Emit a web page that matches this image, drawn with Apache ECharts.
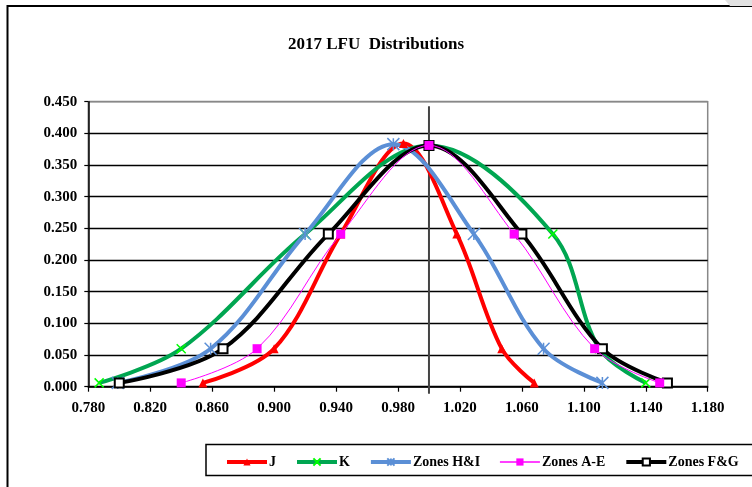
<!DOCTYPE html>
<html>
<head>
<meta charset="utf-8">
<script src="https://cdn.jsdelivr.net/npm/echarts@6/dist/echarts.min.js"></script>
<style>
  html, body { margin: 0; padding: 0; background: #fff; }
  #chart { width: 752px; height: 487px; }
</style>
</head>
<body>
<div id="chart"></div>
<script>
// values
const seriesNames = ["J", "K", "Zones H&I", "Zones A-E", "Zones F&G"];
const legendWidths = [4, 4, 4, 1.5, 4];

const jX = [0.854, 0.900, 0.943, 0.9835, 1.018, 1.047, 1.068];
const jY = [0.006, 0.060, 0.241, 0.384, 0.241, 0.060, 0.006];

const kX = [0.787, 0.840, 0.920, 1.000, 1.080, 1.110, 1.140];
const kY = [0.006, 0.060, 0.241, 0.381, 0.241, 0.060, 0.006];

const hiX = [0.799, 0.859, 0.920, 0.977, 1.029, 1.074, 1.112];
const hiY = [0.006, 0.060, 0.241, 0.383, 0.241, 0.060, 0.006];

const aeX = [0.840, 0.889, 0.943, 1.000, 1.055, 1.107, 1.149];
const aeY = [0.006, 0.060, 0.241, 0.381, 0.241, 0.060, 0.006];

const fgX = [0.800, 0.867, 0.935, 1.000, 1.060, 1.112, 1.154];
const fgY = [0.006, 0.060, 0.241, 0.381, 0.241, 0.060, 0.006];

// vertical reference line at 1.000
const refX = [1.0, 1.0];
const refY = [0.443, -0.011];

const xMin = 0.78, xMax = 1.18, xStep = 0.04;
const yMin = 0, yMax = 0.45, yStep = 0.05;

const pairs = (xs, ys) => xs.map((x, i) => [x, ys[i]]);
const font = "Liberation Serif";

const chart = echarts.init(document.getElementById("chart"));

// split lines black, the top one gray like the plot border
const splitColors = [];
for (let i = 0; i <= Math.round((yMax - yMin) / yStep); i++) splitColors.push("#000");
splitColors[splitColors.length - 1] = "#888";

chart.setOption({
  animation: false,
  backgroundColor: "#fff",
  title: {
    text: "2017 LFU  Distributions",
    left: "center",
    top: 31,
    textStyle: { fontFamily: font, fontWeight: "bold", fontSize: 17, color: "#000" },
  },
  graphic: [
    {
      type: "rect",
      shape: { x: 7.5, y: 6, width: 800, height: 600 },
      style: { fill: "none", stroke: "#000", lineWidth: 2 },
      silent: true,
    },
    {
      type: "rect",
      shape: { x: 206, y: 444.5, width: 600, height: 31 },
      style: { fill: "none", stroke: "#000", lineWidth: 1.5 },
      silent: true,
    },
    {
      type: "polygon",
      shape: { points: [[725, 0], [752, 0], [752, 6], [730, 6]] },
      style: { fill: "#e2e2e2" },
      silent: true,
    },
  ],
  legend: {
    data: seriesNames.map((n, i) => ({ name: n, lineStyle: { width: legendWidths[i] } })),
    left: 225,
    top: 455,
    padding: 0,
    itemWidth: 40,
    itemHeight: 9,
    itemGap: 19,
    textStyle: { fontFamily: font, fontWeight: "bold", fontSize: 14, color: "#000", padding: [0, 0, 0, -3] },
  },
  grid: {
    left: 88.3,
    right: 44.3,
    top: 101.7,
    bottom: 100.3,
    show: true,
    borderColor: "#888",
    borderWidth: 1.5,
  },
  xAxis: {
    type: "value",
    min: xMin,
    max: xMax,
    interval: xStep,
    axisLine: { lineStyle: { color: "#000", width: 1.5 } },
    axisTick: { show: true, length: 5, lineStyle: { color: "#000", width: 1.2 } },
    axisLabel: {
      margin: 14,
      fontFamily: font,
      fontWeight: "bold",
      fontSize: 15,
      color: "#000",
      formatter: (v) => v.toFixed(3),
    },
    splitLine: { show: false },
  },
  yAxis: {
    type: "value",
    min: yMin,
    max: yMax,
    interval: yStep,
    axisLine: { show: true, lineStyle: { color: "#000", width: 1.5 } },
    axisTick: { show: true, length: 4, lineStyle: { color: "#000", width: 1.2 } },
    axisLabel: {
      margin: 11,
      fontFamily: font,
      fontWeight: "bold",
      fontSize: 15,
      color: "#000",
      formatter: (v) => v.toFixed(3),
    },
    splitLine: { show: true, lineStyle: { color: splitColors, width: 1.4 } },
  },
  series: [
    {
      name: "ref",
      type: "line",
      data: pairs(refX, refY),
      symbol: "none",
      clip: false,
      silent: true,
      z: 1,
      lineStyle: { color: "#444", width: 2 },
    },
    {
      name: "J",
      type: "line",
      data: pairs(jX, jY),
      smooth: 0.35,
      symbol: "triangle",
      symbolSize: 9,
      z: 2,
      itemStyle: { color: "#ff0000" },
      lineStyle: { color: "#ff0000", width: 4 },
    },
    {
      name: "K",
      type: "line",
      data: pairs(kX, kY),
      smooth: 0.35,
      symbol: "path://M0,0L10,10M10,0L0,10",
      symbolSize: 9,
      z: 2,
      itemStyle: { color: "#00ff00", borderColor: "#00ff00", borderWidth: 1.5 },
      lineStyle: { color: "#00a651", width: 4 },
    },
    {
      name: "Zones H&I",
      type: "line",
      data: pairs(hiX, hiY),
      smooth: 0.35,
      symbol: "path://M0,0L10,10M10,0L0,10M5,0L5,10",
      symbolSize: 12,
      z: 2,
      itemStyle: { color: "#5b8fd6", borderColor: "#5b8fd6", borderWidth: 1.5 },
      lineStyle: { color: "#5b8fd6", width: 4 },
    },
    {
      name: "Zones F&G",
      type: "line",
      data: pairs(fgX, fgY),
      smooth: 0.35,
      symbol: "emptyRect",
      symbolSize: 9,
      z: 2,
      itemStyle: { color: "#000", borderColor: "#000", borderWidth: 1.5 },
      lineStyle: { color: "#000", width: 4 },
    },
    {
      name: "Zones A-E",
      type: "line",
      data: pairs(aeX, aeY),
      smooth: 0.35,
      symbol: "rect",
      symbolSize: 9,
      z: 3,
      itemStyle: { color: "#ff00ff" },
      lineStyle: { color: "#ff00ff", width: 1 },
    },
  ],
});
</script>
</body>
</html>
